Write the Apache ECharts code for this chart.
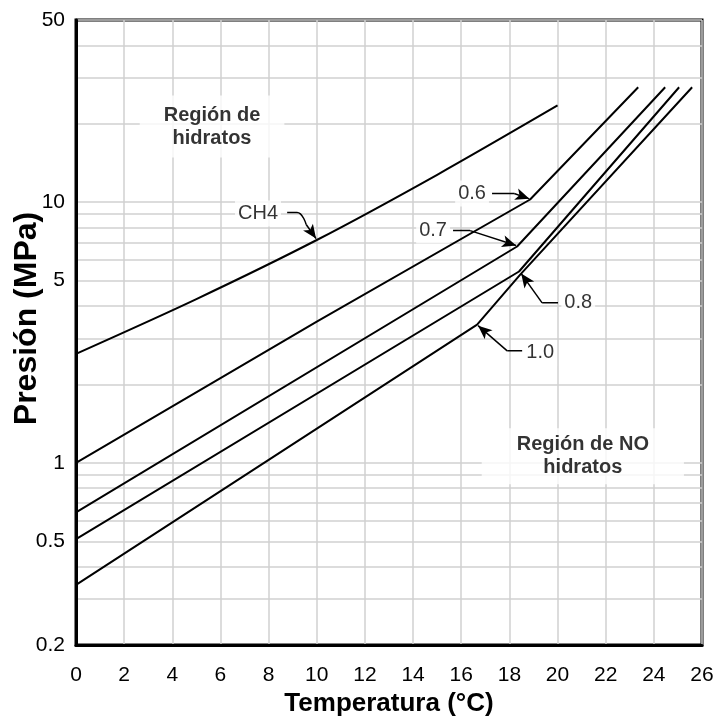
<!DOCTYPE html>
<html><head><meta charset="utf-8">
<script src="https://cdn.jsdelivr.net/npm/echarts@6/dist/echarts.min.js"></script>
<style>html,body{margin:0;padding:0;background:#fff}#c{width:714px;height:717px}</style>
</head><body><div id="c"></div>
<script>
// Axis ticks
const yLabelValues = [0.2, 0.5, 1, 5, 10, 50];
const yGridValues = [0.2,0.3,0.4,0.5,0.6,0.7,0.8,0.9,1,2,3,4,5,6,7,8,9,10,20,30,40,50];
// Curves [temperature °C, pressure MPa]
const ch4  = [[0,2.62],[5,4.25],[10,7.16],[15,12.74],[20,23.5]];
const sg06 = [[0,1.0],[10,3.48],[18.86,10.24],[23.35,27.6]];
const sg07 = [[0,0.646],[18.32,6.76],[24.47,27.6]];
const sg08 = [[0,0.51],[18.40,5.42],[25.05,27.6]];
const sg10 = [[0,0.34],[16.66,3.39],[18.45,5.27],[25.59,27.6]];
// Annotation texts and anchor points (data space)
const annoTexts = ['CH4','0.6','0.7','0.8','1.0'];
const annoPos = [[7.56,9.05],[16.45,10.8],[14.83,7.78],[20.86,4.11],[19.28,2.64]];
const leaders = [
  [[8.77,9.13],[9.18,9.13],[9.56,8.21],[9.97,7.25]],
  [[17.28,10.8],[18.2,10.8],[18.83,10.3]],
  [[15.66,7.78],[16.37,7.78],[18.28,6.82]],
  [[20.02,4.11],[19.36,4.11],[18.49,5.32]],
  [[18.53,2.69],[17.91,2.69],[16.70,3.36]]
];
const regionTexts = ['Región de\nhidratos', 'Región de NO\nhidratos'];
const regionPos = [[5.65,19.5],[21.05,1.06]];

const FONT = 'Liberation Sans, Arial, sans-serif';
const chart = echarts.init(document.getElementById('c'), null, {renderer:'canvas'});

function curve(data, smooth) {
  return {type:'line', data:data, symbol:'none', z:5, silent:true, smooth: smooth || false,
    lineStyle:{color:'#000', width:2}};
}
const leaderSeries = leaders.map(pts => {
  const body = pts.slice(0, pts.length - 1);
  const a = pts[pts.length - 2], b = pts[pts.length - 1];
  return {
    type:'line', data: body, symbol:'none', smooth: body.length > 2 ? 0.5 : false, z:6, silent:true,
    lineStyle:{color:'#000', width:1.5},
    markLine:{silent:true, symbol:['none','arrow'], symbolSize:[9,14], animation:false,
      label:{show:false}, lineStyle:{color:'#000', width:1.5, type:'solid'},
      data:[[{coord:a},{coord:b}]]}
  };
});

const labelData = annoTexts.map((t,i) => ({
  value: annoPos[i], name: t,
  label:{show:true, position:'inside', formatter: t, color:'#000', fontSize:20, fontFamily:FONT,
    backgroundColor:'#fff', padding:[3,3]}
})).concat(regionTexts.map((t,i) => ({
  value: regionPos[i], name: t,
  label:{show:true, position:'inside', formatter: t, color:'#000', fontSize:20, fontWeight:'bold',
    fontFamily:FONT, lineHeight:23, align:'center', backgroundColor:'#fff',
    padding: i === 0 ? [8,24] : [5,35]}
})));

chart.setOption({
  animation:false,
  backgroundColor:'#fff',
  grid:{left:76, right:12, top:20, bottom:72, show:true, borderColor:'#000', borderWidth:3,
    backgroundColor:'transparent', containLabel:false, outerBoundsMode:'none'},
  xAxis:{type:'value', min:0, max:26, interval:2,
    name:'Temperatura (°C)', nameLocation:'middle', nameGap:46, nameMoveOverlap:false,
    nameTextStyle:{fontSize:26, fontWeight:'bold', color:'#000', fontFamily:FONT},
    axisLine:{show:true, lineStyle:{color:'#000', width:3}},
    axisTick:{show:false},
    axisLabel:{fontSize:21, color:'#000', margin:20, fontFamily:FONT},
    splitLine:{show:true, lineStyle:{color:'#d0d0d0', width:1.5}}
  },
  yAxis:{type:'log', logBase:10, min:0.2, max:50,
    name:'Presión (MPa)', nameLocation:'middle', nameGap:33, nameRotate:90, nameMoveOverlap:false,
    nameTextStyle:{fontSize:32, fontWeight:'bold', color:'#000', fontFamily:FONT, padding:[0,0,0,28]},
    axisLine:{show:true, lineStyle:{color:'#000', width:3}},
    axisTick:{show:false, customValues: yGridValues},
    axisLabel:{fontSize:21, color:'#000', margin:11, fontFamily:FONT, customValues: yLabelValues,
      formatter: v => String(+v.toPrecision(3))},
    splitLine:{show:true, lineStyle:{color:'#d0d0d0', width:1.5}}
  },
  series:[
    {type:'scatter', data: labelData, symbolSize:0, z:3, silent:true},
    curve(ch4, 0.3), curve(sg06), curve(sg07), curve(sg08), curve(sg10)
  ].concat(leaderSeries)
});
</script></body></html>
